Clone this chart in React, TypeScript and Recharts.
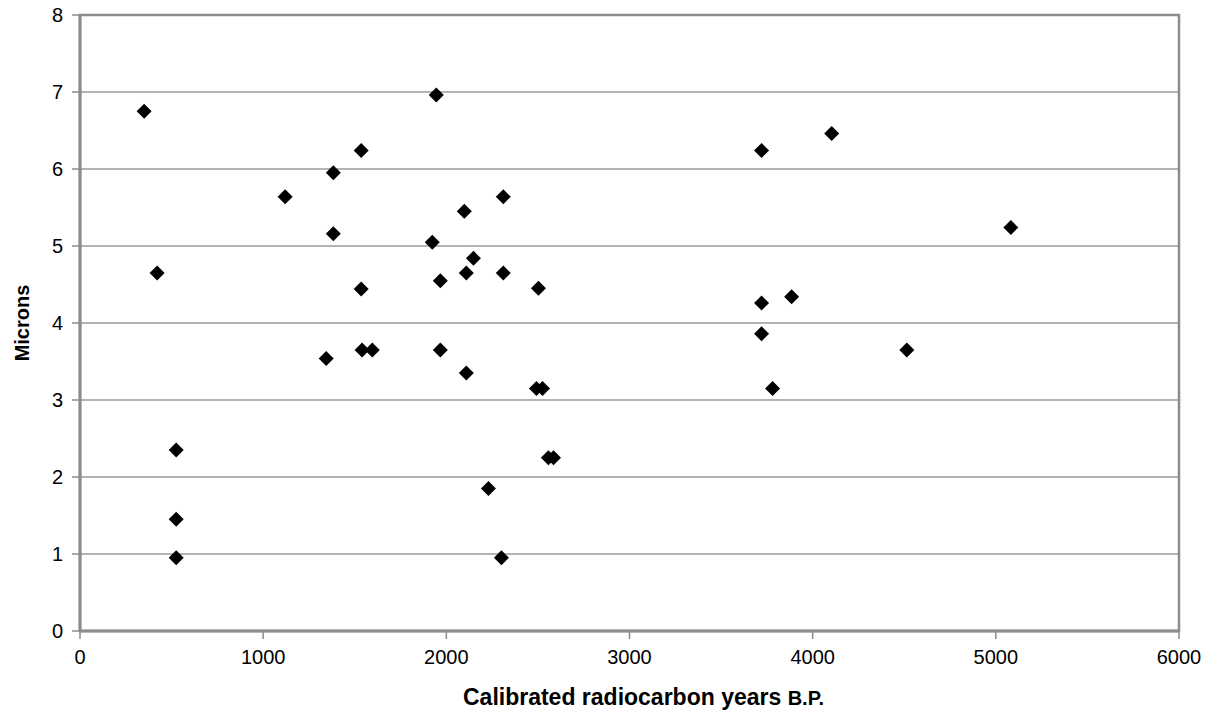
import { ScatterChart, Scatter, XAxis, YAxis, CartesianGrid, ReferenceArea } from "recharts";

// readings: calibrated years BP and size in microns
const years = [
  350, 421, 525, 525, 525, 1120, 1344, 1383, 1383, 1535, 1535, 1540, 1596,
  1923, 1945, 1967, 1967, 2098, 2109, 2109, 2148, 2230, 2301, 2311, 2311,
  2492, 2503, 2525, 2557, 2585, 3721, 3721, 3721, 3781, 3885, 4104, 4514, 5082,
];
const microns = [
  6.75, 4.65, 2.35, 1.45, 0.95, 5.64, 3.54, 5.95, 5.16, 6.24, 4.44, 3.65, 3.65,
  5.05, 6.96, 4.55, 3.65, 5.45, 4.65, 3.35, 4.84, 1.85, 0.95, 5.64, 4.65,
  3.15, 4.45, 3.15, 2.25, 2.25, 6.24, 4.26, 3.86, 3.15, 4.34, 6.46, 3.65, 5.24,
];
const xTicks = [0, 1000, 2000, 3000, 4000, 5000, 6000];
const yTicks = [0, 1, 2, 3, 4, 5, 6, 7, 8];

const points = years.map((x, i) => ({ x, y: microns[i] }));

const FONT = "'Liberation Sans', Arial, Helvetica, sans-serif";
const GREY = "#8c8c8c";

function Diamond(props: any) {
  const { cx, cy } = props;
  const r = 7.5;
  return <polygon points={`${cx},${cy - r} ${cx + r},${cy} ${cx},${cy + r} ${cx - r},${cy}`} fill="#000" />;
}

function XTitle({ viewBox }: any) {
  const x = viewBox.x + viewBox.width / 2 + 14;
  return (
    <text x={x} y={viewBox.y + 74} textAnchor="middle" fontFamily={FONT} fontWeight="bold" fontSize={23} fill="#000">
      Calibrated radiocarbon years <tspan fontSize={20}>B.P.</tspan>
    </text>
  );
}

function YTitle({ viewBox }: any) {
  const cy = viewBox.y + viewBox.height / 2;
  return (
    <text x={22} y={cy} transform={`rotate(-90 22 ${cy})`} textAnchor="middle" dominantBaseline="central"
      fontFamily={FONT} fontWeight="bold" fontSize={20} fill="#000">
      Microns
    </text>
  );
}

export default function App() {
  return (
    <div style={{ position: "absolute", left: 0, top: 0, background: "#fff" }}>
      <ScatterChart width={1211} height={713} margin={{ top: 15, right: 32, bottom: 0, left: 0 }}>
        <CartesianGrid vertical={false} stroke="#9a9a9a" strokeWidth={1.5} />
        <XAxis
          type="number"
          dataKey="x"
          domain={[0, 6000]}
          ticks={xTicks}
          height={82}
          tick={{ fill: "#000", fontSize: 20, fontFamily: FONT }}
          tickSize={8}
          tickMargin={11}
          axisLine={{ stroke: GREY, strokeWidth: 3 }}
          tickLine={{ stroke: GREY, strokeWidth: 1.5 }}
          label={<XTitle />}
        />
        <YAxis
          type="number"
          dataKey="y"
          domain={[0, 8]}
          ticks={yTicks}
          width={80}
          tick={{ fill: "#000", fontSize: 20, fontFamily: FONT }}
          tickSize={8}
          tickMargin={9}
          axisLine={{ stroke: GREY, strokeWidth: 3 }}
          tickLine={{ stroke: GREY, strokeWidth: 1.5 }}
          label={<YTitle />}
        />
        <ReferenceArea x1={0} x2={6000} y1={0} y2={8} fill="none" stroke={GREY} strokeWidth={2.5} />
        <Scatter data={points} shape={<Diamond />} isAnimationActive={false} />
      </ScatterChart>
    </div>
  );
}
